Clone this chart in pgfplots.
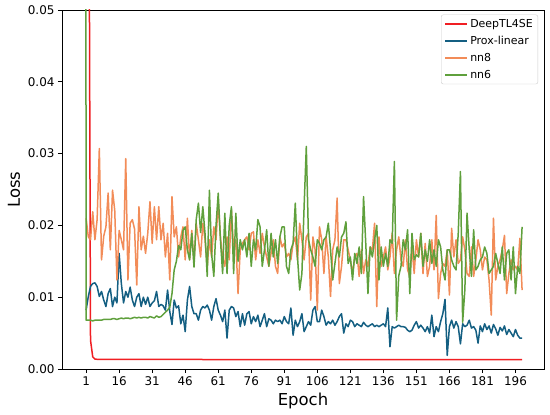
\documentclass[border=0pt]{standalone}
\usepackage{fontspec}
\setmainfont{DejaVu Sans}
\usepackage{pgfplots}
\pgfplotsset{compat=1.18}
\usepackage{pgfplotstable}
\definecolor{cred}{RGB}{240,30,35}
\definecolor{cblue}{RGB}{20,95,130}
\definecolor{corange}{RGB}{242,140,88}
\definecolor{cgreen}{RGB}{95,160,60}

\pgfplotstableread{
x y
0 0.5
1 0.3
2 0.1
3 0.004
4 0.0017
5 0.00138
6 0.00135
10 0.00134
20 0.00133
40 0.00133
60 0.00132
80 0.00132
100 0.00132
120 0.00132
140 0.00131
160 0.00131
180 0.00131
199 0.00131
}\reddata

\pgfplotstableread{
x y
1 0.0082
2 0.0101
3 0.0115
4 0.0119
5 0.0120
6 0.0115
7 0.0101
8 0.0108
9 0.0096
10 0.0087
11 0.0105
12 0.0112
13 0.0087
14 0.0100
15 0.0092
16 0.0161
17 0.0119
18 0.0092
19 0.0108
20 0.0100
21 0.0114
22 0.0096
23 0.0087
24 0.0100
25 0.0105
26 0.0087
27 0.0100
28 0.0090
29 0.0100
30 0.0087
31 0.0092
32 0.0095
33 0.0108
34 0.0087
35 0.0090
36 0.0088
37 0.0082
38 0.0110
39 0.0080
40 0.0062
41 0.0096
42 0.0085
43 0.0088
44 0.0063
45 0.0075
46 0.0052
47 0.0096
48 0.0115
49 0.0087
50 0.0077
51 0.0077
52 0.0068
53 0.0082
54 0.0087
55 0.0085
56 0.0089
57 0.0082
58 0.0068
59 0.0087
60 0.0098
61 0.0082
62 0.0075
63 0.0066
64 0.0082
65 0.0043
66 0.0082
67 0.0087
68 0.0085
69 0.0073
70 0.0080
71 0.0059
72 0.0077
73 0.0061
74 0.0077
75 0.0080
76 0.0063
77 0.0073
78 0.0066
79 0.0075
80 0.0059
81 0.0068
82 0.0077
83 0.0059
84 0.0070
85 0.0068
86 0.0063
87 0.0068
88 0.0066
89 0.0068
90 0.0063
91 0.0073
92 0.0066
93 0.0063
94 0.0085
95 0.0047
96 0.0068
97 0.0059
98 0.0066
99 0.0077
100 0.0052
101 0.0059
102 0.0066
103 0.0061
104 0.0082
105 0.0087
106 0.0066
107 0.0066
108 0.0082
109 0.0073
110 0.0061
111 0.0066
112 0.0063
113 0.0068
114 0.0061
115 0.0066
116 0.0073
117 0.0077
118 0.0050
119 0.0063
120 0.0059
121 0.0068
122 0.0066
123 0.0059
124 0.0063
125 0.0061
126 0.0059
127 0.0065
128 0.0061
129 0.0059
130 0.0061
131 0.0063
132 0.0059
133 0.0061
134 0.0059
135 0.0061
136 0.0063
137 0.0059
138 0.0085
139 0.0031
140 0.0059
141 0.0057
142 0.0059
143 0.0061
144 0.0059
145 0.0059
146 0.0058
147 0.0054
148 0.0052
149 0.0054
150 0.0061
151 0.0066
152 0.0057
153 0.0061
154 0.0057
155 0.0052
156 0.0059
157 0.0050
158 0.0075
159 0.0045
160 0.0059
161 0.0052
162 0.0066
163 0.0077
164 0.0097
165 0.0019
166 0.0059
167 0.0068
168 0.0057
169 0.0066
170 0.0059
171 0.0035
172 0.0063
173 0.0059
174 0.0061
175 0.0068
176 0.0057
177 0.0059
178 0.0054
179 0.0036
180 0.0060
181 0.0052
182 0.0063
183 0.0055
184 0.0060
185 0.0050
186 0.0062
187 0.0056
188 0.0047
189 0.0058
190 0.0053
191 0.0060
192 0.0048
193 0.0055
194 0.0050
195 0.0045
196 0.0055
197 0.0047
198 0.0043
199 0.0043
}\bluedata

\pgfplotstableread{
x y
1 0.0210
2 0.0184
3 0.0180
4 0.0219
5 0.0180
6 0.0208
7 0.0307
8 0.0152
9 0.0185
10 0.0198
11 0.0245
12 0.0166
13 0.0249
14 0.0221
15 0.0124
16 0.0193
17 0.0180
18 0.0166
19 0.0293
20 0.0124
21 0.0203
22 0.0208
23 0.0195
24 0.0117
25 0.0226
26 0.0166
27 0.0185
28 0.0161
29 0.0189
30 0.0233
31 0.0175
32 0.0226
33 0.0180
34 0.0226
35 0.0180
36 0.0203
37 0.0156
38 0.0189
39 0.0124
40 0.0240
41 0.0184
42 0.0198
43 0.0156
44 0.0184
45 0.0198
46 0.0152
47 0.0210
48 0.0152
49 0.0193
50 0.0147
51 0.0203
52 0.0180
53 0.0156
54 0.0203
55 0.0180
56 0.0143
57 0.0180
58 0.0156
59 0.0198
60 0.0180
61 0.0233
62 0.0184
63 0.0156
64 0.0143
65 0.0184
66 0.0152
67 0.0221
68 0.0166
69 0.0180
70 0.0105
71 0.0166
72 0.0175
73 0.0180
74 0.0184
75 0.0166
76 0.0189
77 0.0191
78 0.0152
79 0.0180
80 0.0161
81 0.0189
82 0.0170
83 0.0156
84 0.0143
85 0.0161
86 0.0180
87 0.0143
88 0.0133
89 0.0184
90 0.0170
91 0.0175
92 0.0156
93 0.0161
94 0.0152
95 0.0175
96 0.0184
97 0.0152
98 0.0203
99 0.0180
100 0.0152
101 0.0184
102 0.0189
103 0.0096
104 0.0184
105 0.0166
106 0.0082
107 0.0198
108 0.0180
109 0.0133
110 0.0184
111 0.0156
112 0.0101
113 0.0166
114 0.0180
115 0.0238
116 0.0119
117 0.0143
118 0.0180
119 0.0180
120 0.0166
121 0.0152
122 0.0133
123 0.0156
124 0.0161
125 0.0129
126 0.0166
127 0.0133
128 0.0152
129 0.0143
130 0.0170
131 0.0166
132 0.0203
133 0.0087
134 0.0184
135 0.0143
136 0.0156
137 0.0170
138 0.0138
139 0.0156
140 0.0189
141 0.0133
142 0.0166
143 0.0184
144 0.0152
145 0.0143
146 0.0180
147 0.0138
148 0.0129
149 0.0170
150 0.0133
151 0.0180
152 0.0156
153 0.0189
154 0.0133
155 0.0175
156 0.0129
157 0.0143
158 0.0180
159 0.0138
160 0.0214
161 0.0098
162 0.0133
163 0.0147
164 0.0143
165 0.0166
166 0.0103
167 0.0196
168 0.0156
169 0.0180
170 0.0147
171 0.0152
172 0.0184
173 0.0166
174 0.0133
175 0.0129
176 0.0170
177 0.0129
178 0.0152
179 0.0180
180 0.0166
181 0.0138
182 0.0156
183 0.0152
184 0.0124
185 0.0075
186 0.0210
187 0.0124
188 0.0143
189 0.0152
190 0.0166
191 0.0186
192 0.0105
193 0.0133
194 0.0152
195 0.0138
196 0.0143
197 0.0138
198 0.0182
199 0.0110
}\orangedata

\pgfplotstableread{
x y
0 0.6
1 0.0068
2 0.0068
3 0.0068
4 0.0067
5 0.0068
6 0.0068
7 0.0068
8 0.0068
9 0.0069
10 0.0069
11 0.0069
12 0.0069
13 0.0070
14 0.0070
15 0.0069
16 0.0070
17 0.0071
18 0.0070
19 0.0071
20 0.0071
21 0.0070
22 0.0071
23 0.0072
24 0.0071
25 0.0072
26 0.0071
27 0.0072
28 0.0072
29 0.0071
30 0.0073
31 0.0072
32 0.0071
33 0.0074
34 0.0072
35 0.0073
36 0.0076
37 0.0079
38 0.0082
39 0.0086
40 0.0105
41 0.0138
42 0.0150
43 0.0172
44 0.0166
45 0.0193
46 0.0198
47 0.0166
48 0.0152
49 0.0189
50 0.0142
51 0.0208
52 0.0231
53 0.0190
54 0.0226
55 0.0189
56 0.0129
57 0.0249
58 0.0160
59 0.0129
60 0.0200
61 0.0245
62 0.0180
63 0.0133
64 0.0217
65 0.0133
66 0.0200
67 0.0226
68 0.0133
69 0.0217
70 0.0150
71 0.0180
72 0.0166
73 0.0180
74 0.0156
75 0.0189
76 0.0143
77 0.0180
78 0.0166
79 0.0208
80 0.0198
81 0.0143
82 0.0166
83 0.0194
84 0.0143
85 0.0189
86 0.0156
87 0.0180
88 0.0147
89 0.0184
90 0.0198
91 0.0198
92 0.0143
93 0.0133
94 0.0166
95 0.0175
96 0.0231
97 0.0156
98 0.0110
99 0.0133
100 0.0226
101 0.0310
102 0.0180
103 0.0166
104 0.0156
105 0.0143
106 0.0180
107 0.0175
108 0.0166
109 0.0180
110 0.0184
111 0.0203
112 0.0166
113 0.0124
114 0.0147
115 0.0170
116 0.0156
117 0.0184
118 0.0189
119 0.0205
120 0.0147
121 0.0156
122 0.0124
123 0.0161
124 0.0147
125 0.0170
126 0.0133
127 0.0240
128 0.0175
129 0.0105
130 0.0170
131 0.0156
132 0.0180
133 0.0200
134 0.0124
135 0.0170
136 0.0143
137 0.0161
138 0.0143
139 0.0180
140 0.0175
141 0.0289
142 0.0068
143 0.0130
144 0.0143
145 0.0180
146 0.0166
147 0.0194
148 0.0105
149 0.0189
150 0.0152
151 0.0159
152 0.0156
153 0.0189
154 0.0143
155 0.0166
156 0.0150
157 0.0180
158 0.0147
159 0.0166
160 0.0143
161 0.0180
162 0.0170
163 0.0138
164 0.0124
165 0.0166
166 0.0166
167 0.0152
168 0.0143
169 0.0138
170 0.0189
171 0.0275
172 0.0065
173 0.0110
174 0.0217
175 0.0166
176 0.0129
177 0.0194
178 0.0138
179 0.0143
180 0.0152
181 0.0156
182 0.0170
183 0.0161
184 0.0133
185 0.0138
186 0.0143
187 0.0161
188 0.0147
189 0.0133
190 0.0170
191 0.0124
192 0.0161
193 0.0166
194 0.0124
195 0.0170
196 0.0105
197 0.0143
198 0.0133
199 0.0198
}\greendata

\begin{document}
\begin{tikzpicture}
\path[use as bounding box] (0bp,0bp) rectangle (550bp,415bp);
\begin{axis}[
  at={(62bp,46bp)}, anchor=south west,
  scale only axis, width=482bp, height=359bp,
  xmin=-9.95, xmax=208.95, ymin=0, ymax=0.05,
  xtick={1,16,...,196},
  ytick={0,0.01,0.02,0.03,0.04,0.05},
  scaled y ticks=false,
  yticklabel style={/pgf/number format/.cd, fixed, fixed zerofill, precision=2},
  /pgf/number format/assume math mode=true,
  tick pos=left,
  tick align=outside,
  major tick length=4bp,
  axis line style={line width=0.8bp},
  every tick/.style={line width=0.8bp, black},
  tick label style={font=\fontsize{12}{14}\selectfont},
  xlabel={Epoch}, ylabel={Loss},
  label style={font=\fontsize{16.5}{19}\selectfont},
  xlabel style={at={(axis description cs:0.5,-0.0891)}, anchor=center},
  ylabel style={at={(axis description cs:-0.0996,0.5)}, anchor=center},
  legend style={at={(1,1)}, anchor=north east, xshift=-6bp, yshift=-4.6bp,
    font=\fontsize{11}{13}\selectfont, draw=black!20, rounded corners=2bp,
    inner xsep=3bp, inner ysep=2.5bp, row sep=3.2bp},
  legend cell align=left,
  legend image code/.code={\draw[#1] (0bp,0bp) -- (22bp,0bp);},
]
\addlegendimage{draw=cred, line width=2bp}
\addlegendentry{DeepTL4SE}
\addlegendimage{draw=cblue, line width=2bp}
\addlegendentry{Prox-linear}
\addlegendimage{draw=corange, line width=2bp}
\addlegendentry{nn8}
\addlegendimage{draw=cgreen, line width=2bp}
\addlegendentry{nn6}
\addplot[draw=cred, line width=1.5bp, line join=round, forget plot] table {\reddata};
\addplot[draw=cblue, line width=1.5bp, line join=round, forget plot] table {\bluedata};
\addplot[draw=corange, line width=1.5bp, line join=round, forget plot] table {\orangedata};
\addplot[draw=cgreen, line width=1.5bp, line join=round, forget plot] table {\greendata};
\end{axis}
\end{tikzpicture}
\end{document}
